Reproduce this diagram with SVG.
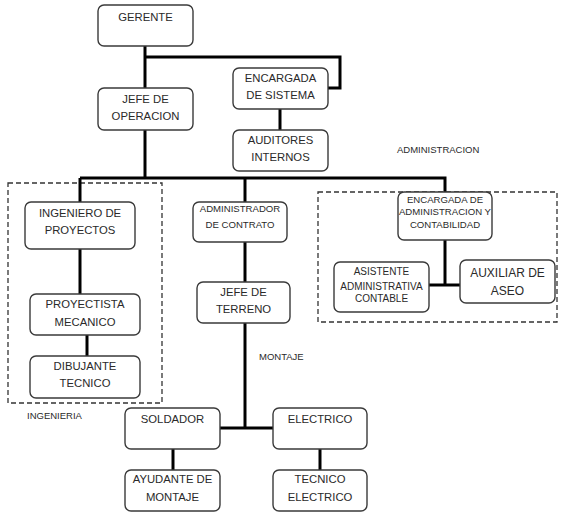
<svg xmlns="http://www.w3.org/2000/svg" width="562" height="519" viewBox="0 0 562 519">
<style>
.box{fill:#fff;stroke:#3a3a3a;stroke-width:1.4}
.t{font-family:"Liberation Sans",Arial,sans-serif;font-size:11.3px;fill:#2a2a2a;text-anchor:middle}
.s{font-size:9.6px}
.a{font-size:10px}
.l{font-family:"Liberation Sans",Arial,sans-serif;font-size:9.5px;fill:#2a2a2a}
.c{fill:none;stroke:#000;stroke-width:3}
.d{fill:none;stroke:#333;stroke-width:1.3;stroke-dasharray:5 3}
</style>
<rect width="562" height="519" fill="#fff"/>
<g id="groups">
<rect class="d" x="8" y="183" width="154" height="220"/>
<rect class="d" x="318" y="192" width="239" height="130"/>
<text class="l" x="27" y="419">INGENIERIA</text>
<text class="l" x="397" y="153">ADMINISTRACION</text>
<text class="l" x="259" y="360">MONTAJE</text>
</g>
<g id="connectors">
<path class="c" d="M145 46V178"/>
<path class="c" d="M145 57H340V88H328"/>
<path class="c" d="M280 109V130"/>
<path class="c" d="M80 178H445V193"/>
<path class="c" d="M80 178V202"/>
<path class="c" d="M80 249V294"/>
<path class="c" d="M87 335V356"/>
<path class="c" d="M245 178V202"/>
<path class="c" d="M245 242V282"/>
<path class="c" d="M245 323V428"/>
<path class="c" d="M220 428H273"/>
<path class="c" d="M173 449V470"/>
<path class="c" d="M320 449V470"/>
<path class="c" d="M445 240V285"/>
<path class="c" d="M429 285H460"/>
</g>
<g id="gerente"><rect class="box" x="98" y="5" width="95" height="41" rx="6"/><text class="t" x="145.5" y="21">GERENTE</text></g>
<g id="encargada-sistema"><rect class="box" x="233" y="68" width="95" height="41" rx="6"/><text class="t" x="280.5" y="82">ENCARGADA</text><text class="t" x="280.5" y="99">DE SISTEMA</text></g>
<g id="jefe-operacion"><rect class="box" x="98" y="88" width="95" height="42" rx="6"/><text class="t" x="145.5" y="103">JEFE DE</text><text class="t" x="145.5" y="120">OPERACION</text></g>
<g id="auditores"><rect class="box" x="233" y="130" width="95" height="41" rx="6"/><text class="t" x="280.5" y="144">AUDITORES</text><text class="t" x="280.5" y="161">INTERNOS</text></g>
<g id="ingeniero"><rect class="box" x="25" y="202" width="110" height="47" rx="6"/><text class="t" x="80" y="217">INGENIERO DE</text><text class="t" x="80" y="234">PROYECTOS</text></g>
<g id="proyectista"><rect class="box" x="30" y="294" width="110" height="41" rx="6"/><text class="t" x="85" y="308">PROYECTISTA</text><text class="t" x="85" y="326">MECANICO</text></g>
<g id="dibujante"><rect class="box" x="30" y="356" width="110" height="42" rx="6"/><text class="t" x="85" y="370">DIBUJANTE</text><text class="t" x="85" y="387">TECNICO</text></g>
<g id="administrador"><rect class="box" x="193" y="202" width="94" height="40" rx="6"/><text class="t s" x="240" y="212">ADMINISTRADOR</text><text class="t s" x="240" y="228">DE CONTRATO</text></g>
<g id="jefe-terreno"><rect class="box" x="197" y="282" width="93" height="41" rx="6"/><text class="t" x="243.5" y="296">JEFE DE</text><text class="t" x="243.5" y="313">TERRENO</text></g>
<g id="soldador"><rect class="box" x="125" y="408" width="95" height="41" rx="6"/><text class="t" x="172.5" y="423">SOLDADOR</text></g>
<g id="electrico"><rect class="box" x="273" y="408" width="94" height="41" rx="6"/><text class="t" x="320" y="423">ELECTRICO</text></g>
<g id="ayudante"><rect class="box" x="125" y="470" width="95" height="41" rx="6"/><text class="t" x="172.5" y="483">AYUDANTE DE</text><text class="t" x="172.5" y="501">MONTAJE</text></g>
<g id="tecnico"><rect class="box" x="273" y="470" width="94" height="41" rx="6"/><text class="t" x="320" y="483">TECNICO</text><text class="t" x="320" y="501">ELECTRICO</text></g>
<g id="encargada-admin"><rect class="box" x="398" y="192" width="94" height="48" rx="6"/><text class="t s" x="445" y="203">ENCARGADA DE</text><text class="t s" x="445" y="215">ADMINISTRACION Y</text><text class="t s" x="445" y="228">CONTABILIDAD</text></g>
<g id="asistente"><rect class="box" x="334" y="262" width="95" height="50" rx="6"/><text class="t a" x="381.5" y="275">ASISTENTE</text><text class="t a" x="381.5" y="290">ADMINISTRATIVA</text><text class="t a" x="381.5" y="302">CONTABLE</text></g>
<g id="auxiliar"><rect class="box" x="460" y="260" width="95" height="43" rx="6"/><text class="t" x="507.5" y="277" style="font-size:12px">AUXILIAR DE</text><text class="t" x="507.5" y="295" style="font-size:12px">ASEO</text></g>
</svg>
